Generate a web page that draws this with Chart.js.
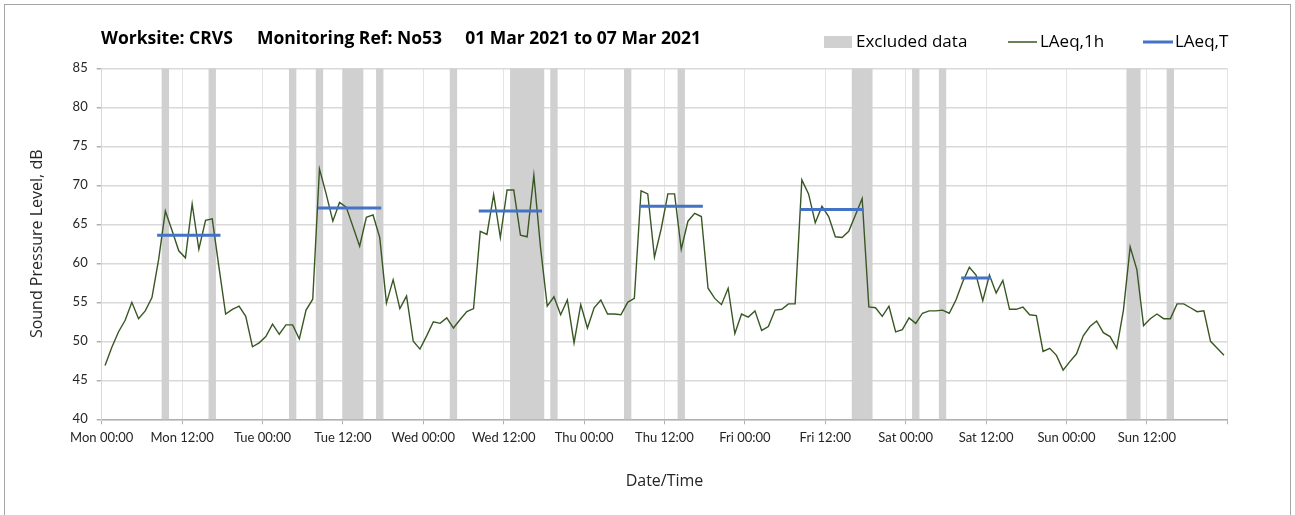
<!DOCTYPE html>
<html>
<head>
<meta charset="utf-8">
<title>Noise monitoring - CRVS N053</title>
<script src="https://cdn.jsdelivr.net/npm/chart.js@4.4.1/dist/chart.umd.min.js"></script>
<style>
  html, body { margin: 0; padding: 0; background: #fff; }
</style>
</head>
<body>
<canvas id="noiseChart" width="1295" height="515"></canvas>
<script>
// LAeq,1h hourly values, Mon 01 Mar 00:00 -> Sun 07 Mar 23:00 (one per hour)
const laeq1h = [
  // Mon
  46.9, 49.2, 51.2, 52.7, 55.0, 52.9, 53.9, 55.6, 60.5, 66.7, 64.2, 61.6,
  60.7, 67.6, 61.8, 65.5, 65.7, 59.5, 53.5, 54.1, 54.5, 53.2, 49.3, 49.8,
  // Tue
  50.6, 52.2, 50.9, 52.1, 52.1, 50.3, 54.0, 55.4, 72.1, 68.9, 65.4, 67.8,
  67.2, 64.7, 62.2, 65.9, 66.2, 63.3, 54.9, 57.9, 54.2, 55.8, 50.0, 49.0,
  // Wed
  50.7, 52.5, 52.3, 53.0, 51.7, 52.8, 53.8, 54.2, 64.1, 63.7, 68.8, 63.3,
  69.4, 69.4, 63.6, 63.4, 71.3, 62.0, 54.5, 55.7, 53.4, 55.3, 49.8, 54.7,
  // Thu
  51.7, 54.3, 55.3, 53.5, 53.5, 53.4, 55.0, 55.5, 69.3, 68.9, 60.8, 64.4,
  68.9, 68.9, 61.8, 65.4, 66.4, 66.0, 56.8, 55.5, 54.7, 56.8, 51.0, 53.5,
  // Fri
  53.1, 53.9, 51.4, 51.9, 54.0, 54.1, 54.8, 54.8, 70.7, 68.9, 65.2, 67.3,
  66.0, 63.4, 63.3, 64.1, 66.2, 68.3, 54.4, 54.3, 53.2, 54.5, 51.2, 51.5,
  // Sat
  53.0, 52.3, 53.6, 53.9, 53.9, 54.0, 53.6, 55.3, 57.6, 59.5, 58.5, 55.2,
  58.5, 56.2, 57.8, 54.1, 54.1, 54.4, 53.4, 53.3, 48.7, 49.1, 48.2, 46.3,
  // Sun
  47.4, 48.4, 50.7, 51.9, 52.6, 51.1, 50.6, 49.1, 54.0, 62.1, 59.2, 52.0,
  52.9, 53.5, 52.9, 52.9, 54.8, 54.8, 54.3, 53.8, 53.9, 50.0, 49.1, 48.2
];

// hours (from Mon 00:00) flagged as excluded data
const excludedHours = [9, 16, 28, 32, 36, 37, 38, 41, 52, 61, 62, 63, 64, 65, 67,
                       78, 86, 112, 113, 114, 121, 125, 153, 154, 159];

// LAeq,T periods: start hour, end hour, level
const periodStart = [8, 32, 56, 80, 104, 128];
const periodEnd   = [18, 42, 66, 90, 114, 133];
const periodLevel = [63.6, 67.1, 66.7, 67.3, 66.9, 58.1];

const tickLabels = ['Mon 00:00', 'Mon 12:00', 'Tue 00:00', 'Tue 12:00', 'Wed 00:00',
  'Wed 12:00', 'Thu 00:00', 'Thu 12:00', 'Fri 00:00', 'Fri 12:00', 'Sat 00:00',
  'Sat 12:00', 'Sun 00:00', 'Sun 12:00', ''];

const FONT = 'Lato, "Open Sans", sans-serif';
const WIDE = '"Open Sans", Lato, sans-serif';

// build point lists for the library
const lineData = laeq1h.map((v, i) => ({ x: i + 0.5, y: v }));
const barData = laeq1h.map((v, i) => ({ x: i + 0.5, y: excludedHours.includes(i) ? 85 : null }));
const periodData = [];
periodStart.forEach((s, k) => {
  periodData.push({ x: s + 0.5, y: periodLevel[k] });
  periodData.push({ x: periodEnd[k] - 0.5, y: periodLevel[k] });
  periodData.push({ x: periodEnd[k], y: null });
});

// title, legend and outer frame (Excel-style layout)
const decor = {
  id: 'decor',
  beforeDraw(chart) {
    const ctx = chart.ctx;
    ctx.save();
    ctx.fillStyle = '#fff';
    ctx.fillRect(0, 0, chart.width, chart.height);
    ctx.strokeStyle = '#a6a6a6';
    ctx.lineWidth = 1;
    ctx.strokeRect(4.5, 4.5, 1286, 540);
    ctx.restore();
  },
  afterDraw(chart) {
    const ctx = chart.ctx;
    ctx.save();
    ctx.textBaseline = 'middle';
    ctx.fillStyle = '#000';
    ctx.font = 'bold 17.5px ' + WIDE;
    ctx.textAlign = 'left';
    ctx.fillText('Worksite: CRVS', 101, 39);
    ctx.fillText('Monitoring Ref: No53', 257, 39);
    ctx.textAlign = 'right';
    ctx.fillText('01 Mar 2021 to 07 Mar 2021', 701, 39);

    // legend
    ctx.textAlign = 'left';
    ctx.font = '17px ' + WIDE;
    ctx.fillStyle = '#d0d0d0';
    ctx.fillRect(824, 36, 28, 12);
    ctx.fillStyle = '#000';
    ctx.fillText('Excluded data', 856, 42);
    ctx.strokeStyle = '#385723';
    ctx.lineWidth = 1.5;
    ctx.beginPath(); ctx.moveTo(1008, 42); ctx.lineTo(1037, 42); ctx.stroke();
    ctx.fillText('LAeq,1h', 1040, 42);
    ctx.strokeStyle = '#4472c4';
    ctx.lineWidth = 3;
    ctx.beginPath(); ctx.moveTo(1143, 42); ctx.lineTo(1173, 42); ctx.stroke();
    ctx.fillText('LAeq,T', 1175, 42);
    ctx.restore();
  }
};

const ctx = document.getElementById('noiseChart').getContext('2d');

new Chart(ctx, {
  type: 'line',
  data: {
    datasets: [
      {
        label: 'LAeq,T',
        data: periodData,
        borderColor: '#4472c4',
        borderWidth: 3,
        borderCapStyle: 'square',
        pointRadius: 0,
        spanGaps: false,
        order: 1
      },
      {
        label: 'LAeq,1h',
        data: lineData,
        borderColor: '#385723',
        borderWidth: 1.4,
        pointRadius: 0,
        tension: 0,
        order: 2
      },
      {
        type: 'bar',
        label: 'Excluded data',
        data: barData,
        backgroundColor: '#d0d0d0',
        borderWidth: 0,
        barPercentage: 1,
        categoryPercentage: 1,
        order: 3
      }
    ]
  },
  options: {
    responsive: false,
    devicePixelRatio: 1,
    animation: false,
    events: [],
    layout: { padding: { top: 68.3, right: 67.7, left: 0, bottom: 0 } },
    plugins: {
      legend: { display: false },
      title: { display: false },
      tooltip: { enabled: false }
    },
    scales: {
      x: {
        type: 'linear',
        min: 0,
        max: 168,
        offset: false,
        ticks: {
          stepSize: 12,
          autoSkip: false,
          maxRotation: 0,
          padding: 6,
          color: '#262626',
          font: { family: FONT, size: 13 },
          callback: (v, i) => tickLabels[i]
        },
        grid: { offset: false, color: '#e4e4e4', lineWidth: 1, tickLength: 5, tickColor: '#b0b0b0' },
        border: { color: '#b0b0b0', width: 1.5 },
        title: {
          display: true,
          text: 'Date/Time',
          color: '#262626',
          font: { family: WIDE, size: 16 },
          padding: { top: 0, bottom: 24 }
        },
        afterFit(scale) { scale.height = 515 - 419.3; }
      },
      y: {
        min: 40,
        max: 85,
        ticks: {
          stepSize: 5,
          padding: 9,
          color: '#262626',
          font: { family: FONT, size: 13 }
        },
        grid: { color: '#d9d9d9', lineWidth: 1.5, tickLength: 5, tickColor: '#b0b0b0' },
        border: { color: '#d9d9d9', width: 1 },
        title: {
          display: true,
          text: 'Sound Pressure Level, dB',
          color: '#262626',
          font: { family: WIDE, size: 16 },
          padding: { top: 28, bottom: 0 }
        },
        afterFit(scale) { scale.width = 101.7; }
      }
    }
  },
  plugins: [decor]
});
</script>
</body>
</html>
